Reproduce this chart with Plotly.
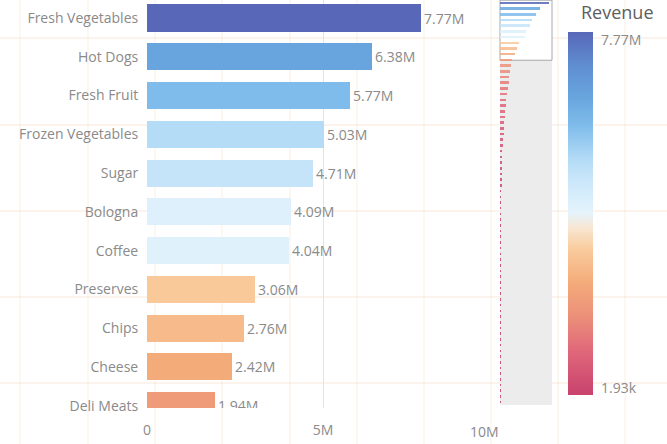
import plotly.graph_objects as go

# ---------------- data ----------------
categories = [
    "Fresh Vegetables", "Hot Dogs", "Fresh Fruit", "Frozen Vegetables", "Sugar",
    "Bologna", "Coffee", "Preserves", "Chips", "Cheese", "Deli Meats",
    "Bagels", "Pizza", "Soup", "Beer", "Juice", "Wine", "Cookies", "Paper Wipes",
    "Chocolate Candy", "Canned Vegetables", "Ice Cream", "Dried Fruit", "Muffins",
    "Popcorn", "Pasta", "Rice", "Eggs", "Milk", "Yogurt", "Bread", "Donuts",
    "Crackers", "Frozen Chicken", "Frozen Entrees", "Shrimp", "Tuna", "Soda",
    "Flavored Drinks", "Peanut Butter", "Jelly", "Spices", "Cereal", "Oatmeal",
    "Pretzels", "Nuts", "Dips", "Sour Cream", "Cottage Cheese", "Butter",
    "Waffles", "Pancake Mix", "Syrup", "Tea", "Cocoa", "Gum", "Hard Candy",
    "Mints", "Crisps", "Sardines", "Anchovies", "Olives", "Pickles", "Relish",
    "Mustard", "Ketchup", "Mayonnaise", "Vinegar", "Cooking Oil", "Flour",
    "Baking Soda",
]
revenue = [
    7770000, 6380000, 5770000, 5030000, 4710000,
    4090000, 4040000, 3060000, 2760000, 2420000, 1940000,
    1760000, 1610000, 1470000, 1350000, 1220000, 1110000, 1010000, 920000,
    850000, 780000, 700000, 620000, 555000, 500000, 440000, 390000, 340000,
    300000, 262000, 224000, 192000, 163000, 134000, 112000, 95000, 82000,
    71000, 62000, 54000, 47000, 41000, 36000, 31500, 27600, 24200, 21300,
    18800, 16600, 14700, 13000, 11600, 10300, 9200, 8200, 7300, 6500, 5800,
    5200, 4650, 4150, 3750, 3400, 3100, 2850, 2600, 2420, 2260, 2120, 2020,
    1930,
]
visible_rows = 11  # rows scrolled into view in the main chart
x_tick_vals = [0, 5000000, 10000000]
x_tick_text = ["0", "5M", "10M"]
legend_title = "Revenue"


def fmt(v):
    if v >= 1e6:
        return f"{v/1e6:.2f}M"
    return f"{v/1e3:.2f}k"


labels = [fmt(v) if i < visible_rows else "" for i, v in enumerate(revenue)]
idx = list(range(len(categories)))
cmin, cmax = min(revenue), max(revenue)

colorscale = [
    [0.00, "#c8426e"],
    [0.12, "#e0677a"],
    [0.22, "#ec9179"],
    [0.31, "#f4ab7a"],
    [0.36, "#f7bd8d"],
    [0.40, "#f9cb9b"],
    [0.46, "#f8e6d2"],
    [0.50, "#e6f3fb"],
    [0.53, "#dcf0fb"],
    [0.61, "#c4e3f9"],
    [0.65, "#b3dbf6"],
    [0.74, "#80bdeb"],
    [0.82, "#68a5de"],
    [0.91, "#5f8dd0"],
    [1.00, "#5867b8"],
]

# ---------------- geometry helpers (pixels -> paper) ----------------
W, H = 667, 444
ML, MR, MT, MB = 147, 0, 0, 36
PW, PH = W - ML - MR, H - MT - MB


def px(xp):
    return (xp - ML) / PW


def py(yp):
    return 1 - (yp - MT) / PH


GRAY_TXT = "#8a8a8a"
FONT = "Open Sans"
FS = 14

fig = go.Figure()

# main bars
fig.add_trace(go.Bar(
    x=revenue, y=idx, orientation="h",
    width=0.7,
    marker=dict(color=revenue, colorscale=colorscale, cmin=cmin, cmax=cmax,
                line=dict(width=0), showscale=False),
    text=labels, texttemplate="%{text}", textposition="outside",
    textfont=dict(color=GRAY_TXT, size=FS, family=FONT),
    cliponaxis=True,
    xaxis="x", yaxis="y", hoverinfo="skip",
))

# mini chart bars (with the colour scale legend)
fig.add_trace(go.Bar(
    x=revenue, y=idx, orientation="h",
    width=0.45, opacity=0.85,
    marker=dict(color=revenue, colorscale=colorscale, cmin=cmin, cmax=cmax,
                line=dict(width=0), showscale=True,
                colorbar=dict(
                    x=px(568), xanchor="left", y=py((32 + 395) / 2), yanchor="middle",
                    thickness=25, thicknessmode="pixels",
                    len=363, lenmode="pixels",
                    xpad=0, ypad=0, outlinewidth=0,
                    showticklabels=False, ticks="",
                )),
    xaxis="x2", yaxis="y2", hoverinfo="skip",
))

# empty trace that carries the overlaid axis used for the last x tick label
fig.add_trace(go.Scatter(x=[], y=[], xaxis="x3", yaxis="y", showlegend=False,
                         hoverinfo="skip"))

n = len(categories)
view_top = -0.465
view_bottom = 10.06

fig.update_layout(
    width=W, height=H,
    margin=dict(l=ML, r=MR, t=MT, b=MB, pad=0, autoexpand=False),
    paper_bgcolor="white", plot_bgcolor="white",
    showlegend=False,
    font=dict(family=FONT, color=GRAY_TXT),
    xaxis=dict(
        domain=[0, px(499)], range=[0, 10000000],
        tickvals=x_tick_vals[:-1], ticktext=x_tick_text[:-1],
        showgrid=True, gridcolor="#e3e3e3", gridwidth=1,
        zeroline=False, showline=False,
        ticks="outside", ticklen=9, tickcolor="rgba(0,0,0,0)",
        tickfont=dict(size=FS, color=GRAY_TXT, family=FONT),
        automargin=False,
    ),
    xaxis3=dict(
        overlaying="x", anchor="y", side="bottom",
        domain=[0, px(499)], range=[0, 10000000],
        tickvals=x_tick_vals[-1:], ticktext=x_tick_text[-1:],
        ticklabelposition="outside left",
        ticklabelstandoff=11,
        showgrid=True, gridcolor="#e3e3e3", gridwidth=1,
        zeroline=False, showline=False,
        ticks="outside", ticklen=9, tickcolor="rgba(0,0,0,0)",
        tickfont=dict(size=FS, color=GRAY_TXT, family=FONT),
        automargin=False,
    ),
    yaxis=dict(
        domain=[0, 1], range=[view_bottom, view_top],
        tickvals=idx, ticktext=categories,
        showgrid=False, zeroline=False, showline=False,
        ticks="outside", ticklen=5, tickcolor="rgba(0,0,0,0)",
        tickfont=dict(size=FS, color=GRAY_TXT, family=FONT),
        automargin=False,
    ),
    xaxis2=dict(
        domain=[px(500), px(552)], range=[0, cmax * 52 / 49],
        visible=False, anchor="y2",
    ),
    yaxis2=dict(
        domain=[py(405), 1], range=[n - 0.5, -0.5],
        visible=False, anchor="x2",
    ),
    bargap=0,
)

shapes = []
# faint background grid
for yy in [38, 125, 211, 297, 383]:
    shapes.append(dict(type="line", xref="paper", yref="paper",
                       x0=px(0), x1=px(W), y0=py(yy), y1=py(yy),
                       line=dict(color="rgba(240,190,150,0.18)", width=2), layer="below"))
for xx in [20, 88, 155, 222, 290, 357, 424, 491, 558, 625]:
    shapes.append(dict(type="line", xref="paper", yref="paper",
                       x0=px(xx), x1=px(xx), y0=py(0), y1=py(H),
                       line=dict(color="rgba(240,190,150,0.12)", width=2), layer="below"))
# mini chart background
shapes.append(dict(type="rect", xref="x2 domain", yref="y2 domain",
                   x0=0, x1=1, y0=0, y1=1,
                   fillcolor="#ececec", line=dict(width=0), layer="below"))
# viewport box
shapes.append(dict(type="rect", xref="x2 domain", yref="y2",
                   x0=0, x1=1, y0=view_top, y1=view_bottom,
                   fillcolor="white", line=dict(color="#a8a8a8", width=1), layer="below"))
fig.update_layout(shapes=shapes)

fig.add_annotation(text=legend_title, xref="paper", yref="paper",
                   x=px(579), y=py(12), xanchor="left", yanchor="middle",
                   showarrow=False, font=dict(size=18, color="#5e5e5e", family=FONT))
fig.add_annotation(text=fmt(cmax), xref="paper", yref="paper",
                   x=px(599), y=py(40), xanchor="left", yanchor="middle",
                   showarrow=False, font=dict(size=FS, color=GRAY_TXT, family=FONT))
fig.add_annotation(text=fmt(cmin), xref="paper", yref="paper",
                   x=px(599), y=py(387), xanchor="left", yanchor="middle",
                   showarrow=False, font=dict(size=FS, color=GRAY_TXT, family=FONT))

fig.write_html("out.html")
